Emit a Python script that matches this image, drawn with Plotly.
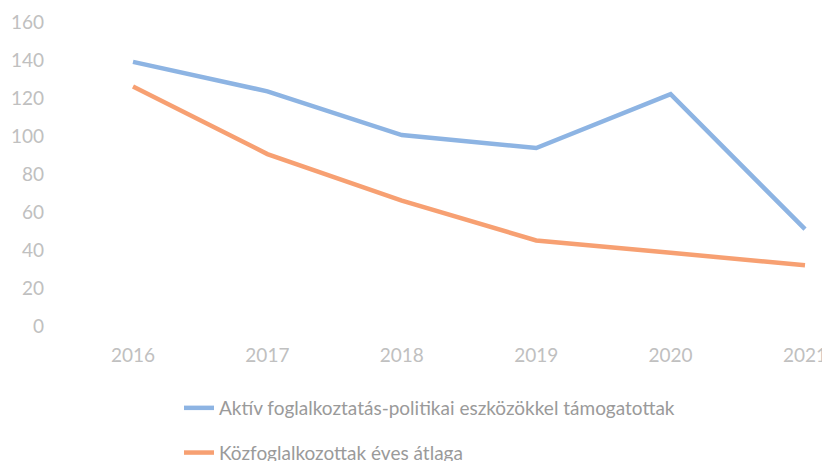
import plotly.graph_objects as go

years = ["2016", "2017", "2018", "2019", "2020", "2021"]
aktiv = [139, 123.5, 100.5, 93.7, 122, 51]
kozfogl = [126, 90.5, 66, 45, 38.5, 32]

name_aktiv = "Aktív foglalkoztatás-politikai eszközökkel támogatottak"
name_koz = "Közfoglalkozottak éves átlaga"

blue = "#8db4e3"
orange = "#f7a072"

fig = go.Figure()
fig.add_trace(go.Scatter(x=years, y=aktiv, mode="lines", name=name_aktiv,
                         legendgroup="a",
                         line=dict(color=blue, width=4.5)))
fig.add_trace(go.Scatter(x=years, y=kozfogl, mode="lines", name=name_koz,
                         legendgroup="b",
                         line=dict(color=orange, width=4.5)))

L, R, T, B = 37, 5, 14, 143
W = 830 - L - R
H = 461 - T - B
step = 134.4
fig.update_layout(
    width=830, height=461,
    margin=dict(l=L, r=R, t=T, b=B, autoexpand=False),
    paper_bgcolor="white", plot_bgcolor="white",
    font=dict(family="Lato, 'Open Sans', sans-serif", size=19, color="#a6a6a6"),
    showlegend=True,
    legend=dict(orientation="v",
                x=(171 - L) / W, y=(461 - B - 381) / H, xanchor="left", yanchor="top",
                tracegroupgap=17, traceorder="grouped",
                font=dict(size=19, color="#9a9a9a"),
                bgcolor="rgba(0,0,0,0)"),
)
fig.update_xaxes(type="category", range=[-(125 - L) / step, 5 + (W + L - 797) / step],
                 showgrid=False, zeroline=False, showline=False, ticks="",
                 tickangle=0, ticklabelstandoff=16,
                 tickfont=dict(size=19, color="#c0c0c0"))
fig.update_yaxes(range=[0, 160], dtick=20, showgrid=False, zeroline=False,
                 showline=False, ticks="",
                 tickfont=dict(size=19, color="#c0c0c0"))

fig.write_html("out.html")
